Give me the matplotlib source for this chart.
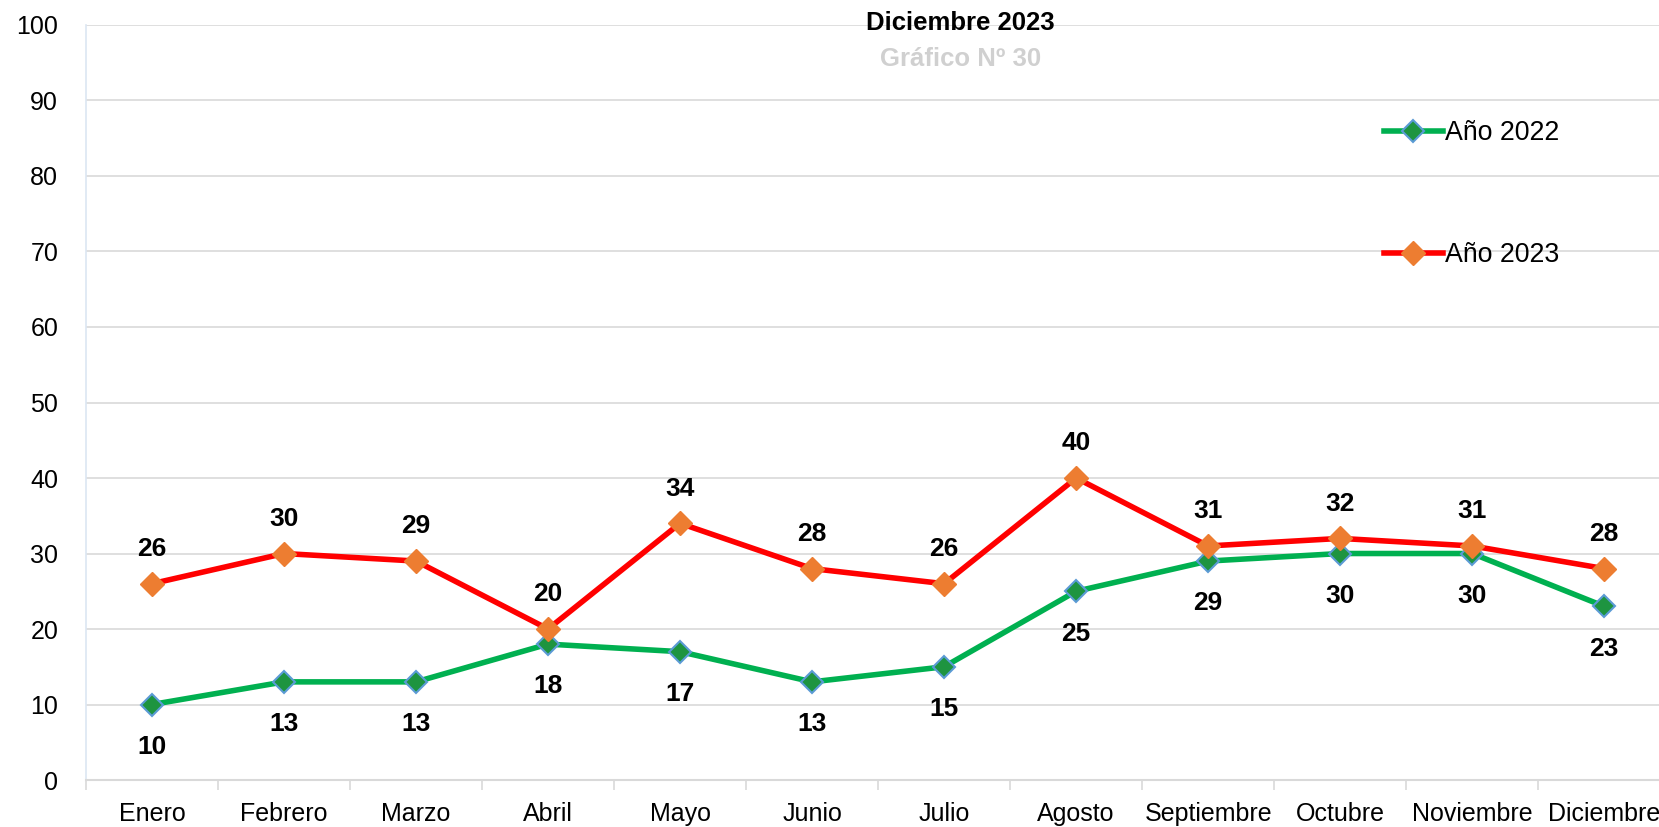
import matplotlib.pyplot as plt
import numpy as np

plt.rcParams['font.family'] = ['Liberation Sans', 'DejaVu Sans']

# =========================
# DATA
# =========================
meses = ["Enero", "Febrero", "Marzo", "Abril", "Mayo", "Junio",
         "Julio", "Agosto", "Septiembre", "Octubre", "Noviembre", "Diciembre"]
anio_2022 = [10, 13, 13, 18, 17, 13, 15, 25, 29, 30, 30, 23]
anio_2023 = [26, 30, 29, 20, 34, 28, 26, 40, 31, 32, 31, 28]
y_ticks = [0, 10, 20, 30, 40, 50, 60, 70, 80, 90, 100]

# =========================
# FIGURE
# =========================
fig = plt.figure(figsize=(16.59, 8.27), dpi=100)
ax = fig.add_axes([0.0518, 0.0568, 0.955, 0.913])

x = np.arange(len(meses))

ax.plot(x, anio_2022, color="#00B050", linewidth=4, marker="D",
        markersize=11, markerfacecolor="#1E9440", markeredgecolor="#5B9BD5",
        markeredgewidth=1.5, label="Año 2022", zorder=3)
ax.plot(x, anio_2023, color="#FF0000", linewidth=4, marker="D",
        markersize=12, markerfacecolor="#ED7D31", markeredgecolor="#ED7D31",
        label="Año 2023", zorder=4)

for xi, v in zip(x, anio_2022):
    ax.annotate(str(v), (xi, v), xytext=(0, -30.5), textcoords="offset points",
                ha="center", va="center", fontsize=19, fontweight="bold")
for xi, v in zip(x, anio_2023):
    ax.annotate(str(v), (xi, v), xytext=(0, 25), textcoords="offset points",
                ha="center", va="center", fontsize=19, fontweight="bold")

ax.set_xlim(-0.5, len(meses) - 0.5)
ax.set_ylim(0, 100)
ax.set_yticks(y_ticks)
ax.tick_params(axis="y", length=0, pad=20, labelsize=18)

ax.set_xticks(x)
ax.set_xticklabels(meses)
ax.set_xticks(np.arange(len(meses) + 1) - 0.5, minor=True)
ax.tick_params(axis="x", which="major", length=0, pad=16, labelsize=18)
ax.tick_params(axis="x", which="minor", length=7, width=1.2, color="#D9D9D9")

ax.grid(axis="y", color="#D9D9D9", linewidth=1.2)
ax.set_axisbelow(True)
for s in ["top", "right"]:
    ax.spines[s].set_visible(False)
ax.spines["bottom"].set_color("#D9D9D9")
ax.spines["bottom"].set_linewidth(1.5)
ax.spines["left"].set_color("#DCE6F2")
ax.spines["left"].set_linewidth(1.2)

fig.text(0.579, 0.972, "Diciembre 2023", ha="center", va="center",
         fontsize=18.5, fontweight="bold", color="black")
fig.text(0.579, 0.929, "Gráfico Nº 30", ha="center", va="center",
         fontsize=18.5, fontweight="bold", color="#D0D0D0")

fig.legend(loc="upper left", bbox_to_anchor=(0.834, 0.855), frameon=False,
           fontsize=19.3, handlelength=2.2, handletextpad=0.1,
           labelspacing=3.6, borderpad=0, borderaxespad=0)

fig.savefig("out.png", dpi=100)
